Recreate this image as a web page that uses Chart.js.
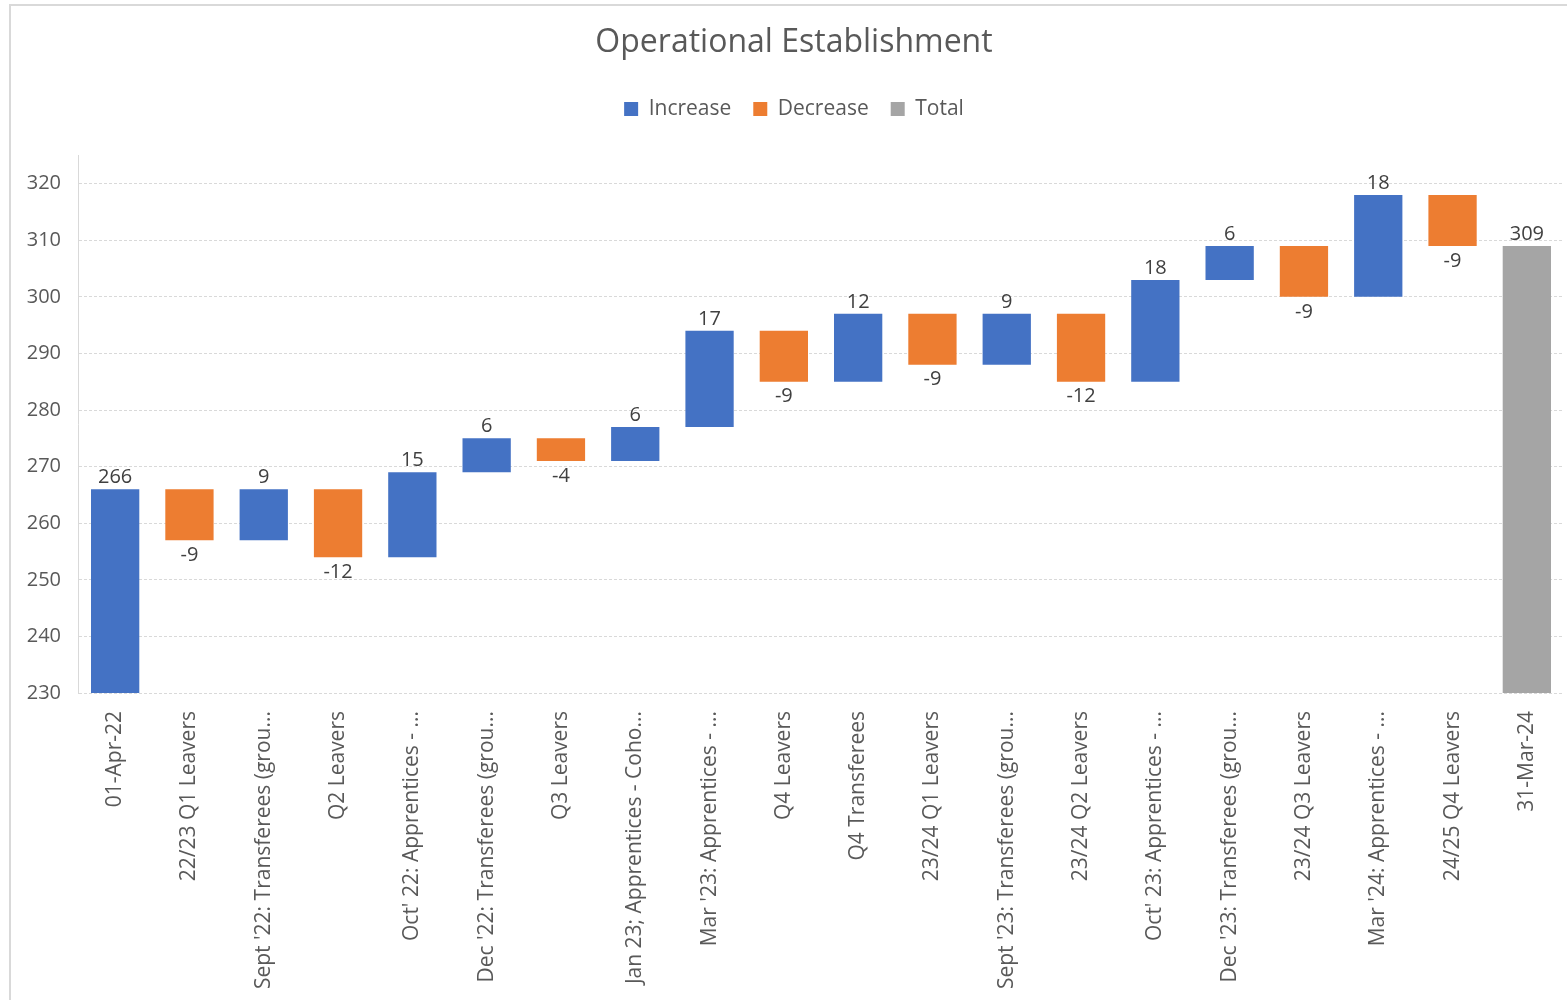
<!DOCTYPE html>
<html><head><meta charset="utf-8">
<script src="https://cdn.jsdelivr.net/npm/chart.js@4/dist/chart.umd.min.js"></script>
<style>
html,body{margin:0;padding:0;background:#fff;}
#frame{position:absolute;left:9px;top:4px;width:1570px;height:1010px;border:2px solid #d9d9d9;box-sizing:border-box;}
canvas{position:absolute;left:0;top:0;}
</style></head><body>
<div id="frame"></div>
<canvas id="c" width="1567" height="1000"></canvas>
<script>
const categories = [
  "01-Apr-22", "22/23 Q1 Leavers", "Sept '22: Transferees (grou...", "Q2 Leavers",
  "Oct' 22: Apprentices - ...", "Dec '22: Transferees (grou...", "Q3 Leavers",
  "Jan 23; Apprentices - Coho...", "Mar '23: Apprentices - ...", "Q4 Leavers",
  "Q4 Transferees", "23/24 Q1 Leavers", "Sept '23: Transferees (grou...",
  "23/24 Q2 Leavers", "Oct' 23: Apprentices - ...", "Dec '23: Transferees (grou...",
  "23/24 Q3 Leavers", "Mar '24: Apprentices - ...", "24/25 Q4 Leavers", "31-Mar-24"
];
const changes = [266, -9, 9, -12, 15, 6, -4, 6, 17, -9, 12, -9, 9, -12, 18, 6, -9, 18, -9, 309];
const kinds = ["increase","decrease","increase","decrease","increase","increase","decrease",
  "increase","increase","decrease","increase","decrease","increase","decrease","increase",
  "increase","decrease","increase","decrease","total"];
const yTicks = [230, 240, 250, 260, 270, 280, 290, 300, 310, 320];
const seriesKeys = ["increase", "decrease", "total"];
const seriesNames = ["Increase", "Decrease", "Total"];

// floating ranges built from the changes
const ranges = [];
let running = 0;
changes.forEach((v, i) => {
  if (kinds[i] === "total") { ranges.push([0, v]); running = v; }
  else { ranges.push([running, running + v]); running += v; }
});

const colors = { increase: "#4472C4", decrease: "#ED7D31", total: "#A5A5A5" };
const FONT = "'Open Sans', sans-serif";

const datasets = seriesKeys.map((k, si) => ({
  label: seriesNames[si],
  data: ranges.map((r, i) => kinds[i] === k ? r : null),
  backgroundColor: colors[k],
  borderWidth: 0,
  barPercentage: 0.65,
  categoryPercentage: 1.0
}));

const labelPlugin = {
  id: "wfLabels",
  afterDatasetsDraw(chart) {
    const ctx = chart.ctx;
    ctx.save();
    ctx.font = "20px " + FONT;
    ctx.fillStyle = "#404040";
    ctx.textAlign = "center";
    chart.data.datasets.forEach((ds, di) => {
      const meta = chart.getDatasetMeta(di);
      meta.data.forEach((el, i) => {
        if (ds.data[i] == null) return;
        const top = Math.min(el.y, el.base);
        const bottom = Math.max(el.y, el.base);
        const txt = String(changes[i]);
        if (kinds[i] === "decrease") {
          ctx.textBaseline = "top";
          ctx.fillText(txt, el.x, bottom + 5);
        } else {
          ctx.textBaseline = "bottom";
          ctx.fillText(txt, el.x, top - 2);
        }
      });
    });
    ctx.restore();
  }
};

new Chart(document.getElementById("c"), {
  type: "bar",
  data: { labels: categories, datasets },
  plugins: [labelPlugin],
  options: {
    responsive: false,
    devicePixelRatio: 1,
    animation: false,
    layout: { padding: { left: 24, right: 3, top: 4, bottom: 0 } },
    plugins: {
      title: {
        display: true, text: "Operational Establishment",
        color: "#595959", font: { family: FONT, size: 32, weight: "normal" },
        padding: { top: 20, bottom: 14 }
      },
      subtitle: {
        display: true, text: " ", weight: 500,
        font: { size: 10 }, padding: { top: 14, bottom: 0 }
      },
      legend: {
        display: true, position: "top",
        labels: {
          color: "#595959", font: { family: FONT, size: 21 },
          boxWidth: 14, boxHeight: 14, padding: 22
        }
      },
      tooltip: { enabled: false }
    },
    scales: {
      x: {
        stacked: true,
        grid: { display: false },
        border: { display: false },
        ticks: {
          autoSkip: false, maxRotation: 90, minRotation: 90, padding: 10,
          color: "#595959", font: { family: FONT, size: 21 }
        },
        afterFit(scale) { scale.height = 307; }
      },
      y: {
        stacked: false,
        min: 230, max: 325,
        afterBuildTicks(scale) { scale.ticks = yTicks.map(v => ({ value: v })); },
        grid: { color: "#d9d9d9", drawTicks: false },
        border: { display: true, color: "#d9d9d9", dash: [3, 2] },
        ticks: { padding: 17, color: "#595959", font: { family: FONT, size: 20 } },
        afterFit(scale) { scale.width = 54; }
      }
    }
  }
});
</script>
</body></html>
